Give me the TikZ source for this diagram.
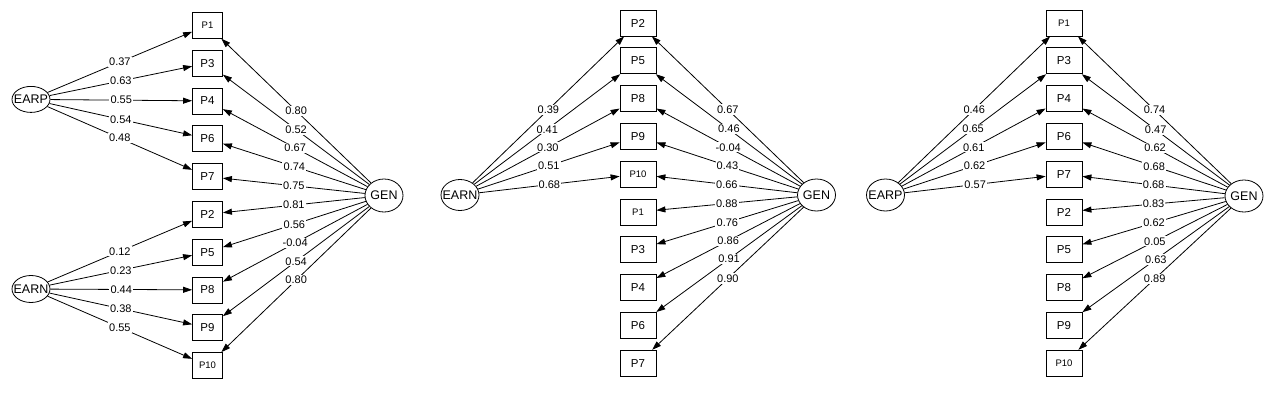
\documentclass[tikz,border=0pt]{standalone}
\usepackage{fontspec}
\setmainfont{Liberation Sans}
\usetikzlibrary{shapes.geometric,arrows.meta}
\tikzset{
  manif/.style={draw,line width=0.8pt,fill=white,minimum height=26pt,inner sep=0pt,font=\fontsize{11.5}{13}\selectfont},
  mna/.style={manif,minimum width=30pt},
  mnb/.style={manif,minimum width=36pt},
  small/.style={font=\fontsize{9.5}{11}\selectfont},
  latent/.style={draw,ellipse,line width=0.8pt,fill=white,inner sep=0pt,minimum width=38pt},
  lattext/.style={font=\fontsize{12.5}{14}\selectfont,inner sep=0pt},
  edge/.style={line width=0.8pt,-{Triangle[length=9pt,width=6pt]}},
  elab/.style={fill=white,inner sep=1.2pt,font=\fontsize{11}{13}\selectfont}
}
\begin{document}
\begin{tikzpicture}[x=1pt,y=-1pt]
\useasboundingbox (0,0) rectangle (1285,400);
% ---------- panel 1 ----------
\node[mna,small] (aP1) at (207.5,25.3) {P1};
\node[mna] (aP3) at (207.5,63.1) {P3};
\node[mna] (aP4) at (207.5,100.9) {P4};
\node[mna] (aP6) at (207.5,138.7) {P6};
\node[mna] (aP7) at (207.5,176.5) {P7};
\node[mna] (aP2) at (207.5,214.3) {P2};
\node[mna] (aP5) at (207.5,252.1) {P5};
\node[mna] (aP8) at (207.5,289.9) {P8};
\node[mna] (aP9) at (207.5,327.7) {P9};
\node[mna,small] (aP10) at (207.5,365.5) {P10};
\node[latent,minimum height=26pt,label={[lattext,name=aEARPt]center:EARP}] (aEARP) at (31,99.4) {};
\node[latent,minimum height=27pt,label={[lattext,name=aEARNt]center:EARN}] (aEARN) at (31,289) {};
\node[latent,minimum height=33pt,label={[lattext,name=aGENt]center:GEN}] (aGEN) at (384,195.5) {};
% ---------- panel 2 ----------
\node[mnb] (bP2) at (638,23) {P2};
\node[mnb] (bP5) at (638,60.8) {P5};
\node[mnb] (bP8) at (638,98.6) {P8};
\node[mnb] (bP9) at (638,136.4) {P9};
\node[mnb,small] (bP10) at (638,174.2) {P10};
\node[mnb,small] (bP1) at (638,212) {P1};
\node[mnb] (bP3) at (638,249.8) {P3};
\node[mnb] (bP4) at (638,287.6) {P4};
\node[mnb] (bP6) at (638,325.4) {P6};
\node[mnb] (bP7) at (638,363.2) {P7};
\node[latent,minimum height=31pt,label={[lattext,name=bEARNt]center:EARN}] (bEARN) at (460,195) {};
\node[latent,minimum height=32pt,label={[lattext,name=bGENt]center:GEN}] (bGEN) at (816.5,195) {};
% ---------- panel 3 ----------
\node[mnb,small] (cP1) at (1064,23) {P1};
\node[mnb] (cP3) at (1064,60.8) {P3};
\node[mnb] (cP4) at (1064,98.6) {P4};
\node[mnb] (cP6) at (1064,136.4) {P6};
\node[mnb] (cP7) at (1064,174.2) {P7};
\node[mnb] (cP2) at (1064,212) {P2};
\node[mnb] (cP5) at (1064,249.8) {P5};
\node[mnb] (cP8) at (1064,287.6) {P8};
\node[mnb] (cP9) at (1064,325.4) {P9};
\node[mnb,small] (cP10) at (1064,363.2) {P10};
\node[latent,minimum height=32pt,label={[lattext,name=cEARPt]center:EARP}] (cEARP) at (885.5,195) {};
\node[latent,minimum height=32pt,label={[lattext,name=cGENt]center:GEN}] (cGEN) at (1244,196) {};
% ---------- edges ----------
\def\edgelist{%
  aEARP/aP1/0.37, aEARP/aP3/0.63, aEARP/aP4/0.55, aEARP/aP6/0.54, aEARP/aP7/0.48,
  aEARN/aP2/0.12, aEARN/aP5/0.23, aEARN/aP8/0.44, aEARN/aP9/0.38, aEARN/aP10/0.55,
  aGEN/aP1/0.80, aGEN/aP3/0.52, aGEN/aP4/0.67, aGEN/aP6/0.74, aGEN/aP7/0.75,
  aGEN/aP2/0.81, aGEN/aP5/0.56, aGEN/aP8/-0.04, aGEN/aP9/0.54, aGEN/aP10/0.80,
  bEARN/bP2/0.39, bEARN/bP5/0.41, bEARN/bP8/0.30, bEARN/bP9/0.51, bEARN/bP10/0.68,
  bGEN/bP2/0.67, bGEN/bP5/0.46, bGEN/bP8/-0.04, bGEN/bP9/0.43, bGEN/bP10/0.66,
  bGEN/bP1/0.88, bGEN/bP3/0.76, bGEN/bP4/0.86, bGEN/bP6/0.91, bGEN/bP7/0.90,
  cEARP/cP1/0.46, cEARP/cP3/0.65, cEARP/cP4/0.61, cEARP/cP6/0.62, cEARP/cP7/0.57,
  cGEN/cP1/0.74, cGEN/cP3/0.47, cGEN/cP4/0.62, cGEN/cP6/0.68, cGEN/cP7/0.68,
  cGEN/cP2/0.83, cGEN/cP5/0.62, cGEN/cP8/0.05, cGEN/cP9/0.63, cGEN/cP10/0.89}
\foreach \src/\dst/\val in \edgelist {
  \draw[edge] (\src) -- (\dst);
}
\foreach \src/\dst/\val in \edgelist {
  \path (\src) -- node[elab] {\val} (\dst);
}
\end{tikzpicture}
\end{document}
